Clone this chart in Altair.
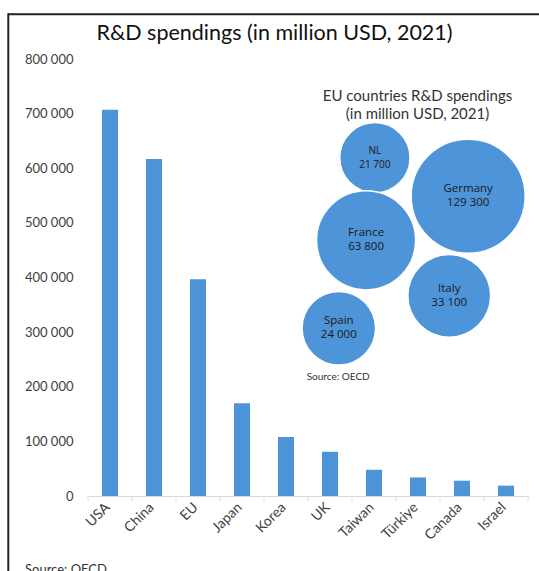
import altair as alt
import pandas as pd

# ---- data ----
countries = ["USA", "China", "EU", "Japan", "Korea", "UK", "Taiwan", "Türkiye", "Canada", "Israel"]
spending = [707000, 617000, 397000, 170000, 108000, 81000, 48000, 34000, 28000, 19000]
y_ticks = [0, 100000, 200000, 300000, 400000, 500000, 600000, 700000, 800000]

eu_countries = ["NL", "Germany", "France", "Italy", "Spain"]
eu_spending = [21700, 129300, 63800, 33100, 24000]
# X / Y values of the inset bubble chart (0-100 grid)
eu_bubble_x = [65.2, 86.4, 63.2, 82.1, 57.0]
eu_bubble_y = [77.4, 68.6, 58.5, 45.8, 38.4]

main_title = "R&D spendings (in million USD, 2021)"
inset_title = "EU countries R&D spendings\n(in million USD, 2021)"
source_text = "Source: OECD"

# ---- style ----
FONT = "Lato"
BUB_FONT = "Open Sans"
BLUE = "#4E94D8"
TXT = "#404040"
W, H = 440, 437

bar_df = pd.DataFrame({"country": countries, "spending": spending})
eu_df = pd.DataFrame({"country": eu_countries, "value": eu_spending,
                      "bx": eu_bubble_x, "by": eu_bubble_y})

fmt = "replace(format(datum.value, ','), ',', ' ')"

bars = alt.Chart(bar_df).mark_bar(color=BLUE, width=16).encode(
    x=alt.X("country:N", sort=countries,
            scale=alt.Scale(paddingInner=0, paddingOuter=0),
            axis=alt.Axis(title=None, labelAngle=-45, ticks=False, tickSize=0,
                          domainColor="#d9d9d9", domainWidth=1,
                          labelFont=FONT, labelFontSize=14, labelColor=TXT,
                          labelAlign="right", labelBaseline="top",
                          labelPadding=4, labelOffset=-7)),
    y=alt.Y("spending:Q",
            scale=alt.Scale(domain=[0, 800000], nice=False),
            axis=alt.Axis(title=None, values=y_ticks, grid=False, domain=False,
                          ticks=False, tickSize=0, labelPadding=15,
                          labelExpr=fmt, labelFont=FONT, labelFontSize=13,
                          labelColor=TXT)),
)

ticks = alt.Chart(bar_df).mark_rule(color="#d9d9d9", strokeWidth=1).encode(
    x=alt.X("country:N", sort=countries, bandPosition=0),
    y=alt.value(H), y2=alt.value(H + 5),
)
end_tick = alt.Chart(pd.DataFrame({"k": [0]})).mark_rule(color="#d9d9d9", strokeWidth=1).encode(
    x=alt.value(W), y=alt.value(H), y2=alt.value(H + 5),
)

bar_layer = alt.layer(bars, ticks, end_tick)

bub_x = alt.X("bx:Q", scale=alt.Scale(domain=[0, 100], nice=False, zero=False), axis=None)
bub_y = alt.Y("by:Q", scale=alt.Scale(domain=[0, 100], nice=False, zero=False), axis=None)

bubbles = alt.Chart(eu_df).mark_circle(color=BLUE, opacity=1, stroke="white", strokeWidth=1.5).encode(
    x=bub_x, y=bub_y,
    size=alt.Size("value:Q", scale=alt.Scale(type="log", domain=[20000, 130000], range=[4579, 13025]),
                  legend=None),
)
bub_labels = alt.Chart(eu_df).transform_calculate(
    label="datum.country + '\\n' + replace(format(datum.value, ','), ',', ' ')"
).mark_text(font=BUB_FONT, color="#1a1a1a", lineBreak="\n", lineHeight=14,
            baseline="middle", align="center", dy=-7).encode(
    x=bub_x, y=bub_y, text="label:N",
    size=alt.condition("datum.country === 'NL'", alt.value(10), alt.value(11.5)),
)
bubble_layer = alt.layer(bubbles, bub_labels)

def label(text, x, y, size, color, align="center", baseline="alphabetic", font=FONT, lh=None):
    kw = dict(font=font, fontSize=size, color=color, align=align, baseline=baseline)
    if lh is not None:
        kw.update(lineBreak="\n", lineHeight=lh)
    return alt.Chart(pd.DataFrame({"t": [text]})).mark_text(**kw).encode(
        text="t:N", x=alt.value(x), y=alt.value(y))

title_mark = label(main_title, 186.5, -19.5, 21.5, "#111111")
inset_title_mark = label(inset_title, 329.5, 37, 15, "#333333", baseline="middle", lh=18)
inset_src = label(source_text, 218.7, 317.7, 10, "#333333", align="left", baseline="middle")
bottom_src = label(source_text, -63, 514.5, 13, "#333333", align="left")

frame_top = alt.Chart(pd.DataFrame({"k": [0]})).mark_rule(color="#222222", strokeWidth=2).encode(
    x=alt.value(-80), x2=alt.value(470), y=alt.value(-44.7))
frame_left = alt.Chart(pd.DataFrame({"k": [0]})).mark_rule(color="#222222", strokeWidth=2).encode(
    x=alt.value(-79.7), y=alt.value(-45.7), y2=alt.value(540))

chart = alt.layer(
    bar_layer, bubble_layer, title_mark, inset_title_mark, inset_src, bottom_src,
    frame_top, frame_left,
).resolve_scale(
    x="independent", y="independent", size="independent"
).properties(
    width=W, height=H,
    autosize=alt.AutoSizeParams(type="none"),
    padding={"left": 88, "top": 59, "right": 11, "bottom": 75},
    background="white",
).configure_view(stroke=None)

chart.save("out.html", embed_options={"renderer": "svg", "actions": False})
